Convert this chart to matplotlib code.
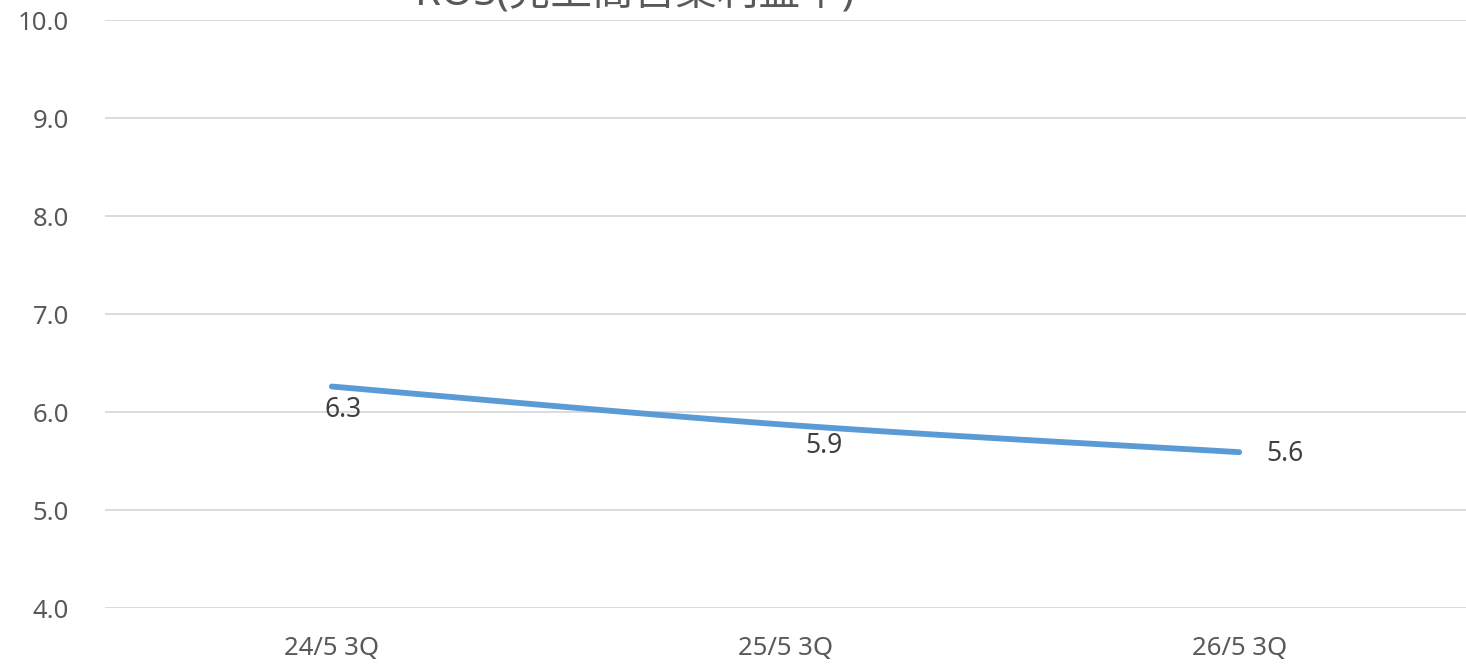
import numpy as np
import matplotlib.pyplot as plt

plt.rcParams['font.family'] = ['Noto Sans', 'Noto Sans CJK JP']

categories = ["24/5 3Q", "25/5 3Q", "26/5 3Q"]
ros = [6.26, 5.87, 5.59]
labels = ["6.3", "5.9", "5.6"]
# label offsets in points (dx, dy)
label_offsets = [(8, -17), (28, -15), (33, -1)]


def smooth(xs, ys, n=50):
    # Catmull-Rom style smoothing between the points
    xs = np.asarray(xs, float)
    ys = np.asarray(ys, float)
    px = np.concatenate([[xs[0]], xs, [xs[-1]]])
    py = np.concatenate([[ys[0]], ys, [ys[-1]]])
    outx, outy = [], []
    t = np.linspace(0, 1, n)
    for i in range(1, len(px) - 2):
        p0, p1, p2, p3 = [np.array([px[j], py[j]]) for j in range(i - 1, i + 3)]
        c1 = p1 + (p2 - p0) / 6
        c2 = p2 - (p3 - p1) / 6
        pts = ((1 - t) ** 3)[:, None] * p1 + (3 * (1 - t) ** 2 * t)[:, None] * c1 \
            + (3 * (1 - t) * t ** 2)[:, None] * c2 + (t ** 3)[:, None] * p2
        outx.extend(pts[:, 0])
        outy.extend(pts[:, 1])
    return outx, outy


fig = plt.figure(figsize=(14.66, 6.64), dpi=100)
ax = fig.add_axes([105 / 1466, 56 / 664, 1 - 105 / 1466, 588 / 664])

x = np.arange(len(categories))
sx, sy = smooth(x, ros)
ax.plot(sx, sy, color="#5B9BD5", lw=4.2, solid_capstyle="round", zorder=3)

for xi, yi, lab, (dx, dy) in zip(x, ros, labels, label_offsets):
    ax.annotate(lab, (xi, yi), xytext=(dx, dy), textcoords="offset points",
                ha="center", va="center", fontsize=19, color="#404040")

ax.set_xlim(-0.5, 2.5)
ax.set_ylim(4, 10)
ax.set_yticks(np.arange(4, 10.01, 1))
ax.set_yticklabels([f"{v:.1f}" for v in np.arange(4, 10.01, 1)])
ax.set_xticks(x)
ax.set_xticklabels(categories)
ax.tick_params(axis="y", length=0, pad=26, labelsize=18.5, labelcolor="#595959")
ax.tick_params(axis="x", length=0, pad=20, labelsize=18.5, labelcolor="#595959")
ax.grid(axis="y", color="#D9D9D9", lw=1.3)
ax.set_axisbelow(True)
for s in ax.spines.values():
    s.set_visible(False)

fig.text(635 / 1466, 1 - 6 / 664, "ROS(売上高営業利益率)", ha="center", va="baseline",
         fontsize=30, color="#595959")

fig.savefig("out.png", dpi=100)
